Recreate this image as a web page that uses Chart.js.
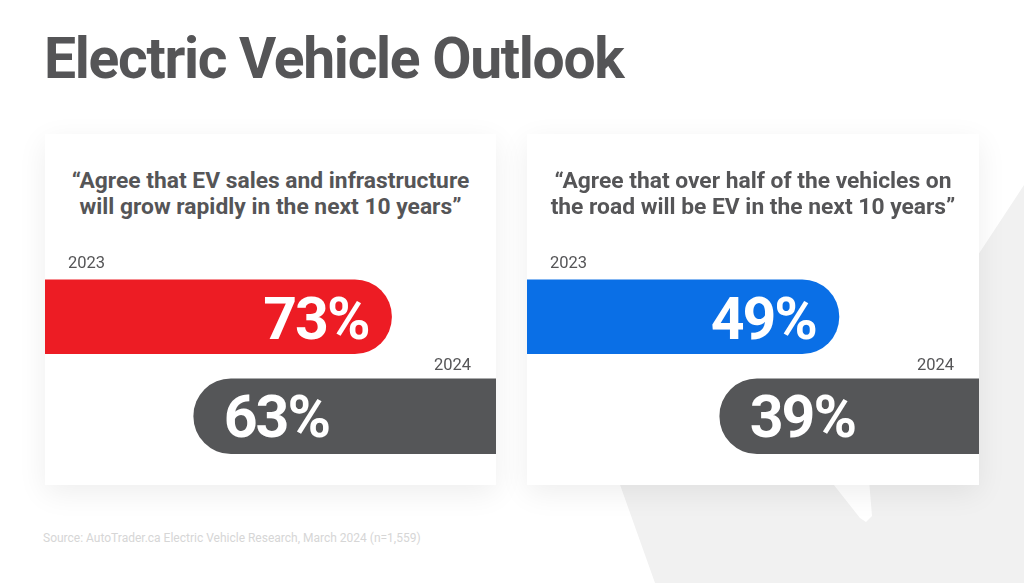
<!DOCTYPE html>
<html>
<head>
<meta charset="utf-8">
<script src="https://cdn.jsdelivr.net/npm/chart.js"></script>
<style>
  html, body { margin: 0; padding: 0; }
  body {
    width: 1024px; height: 583px; position: relative; overflow: hidden;
    background: #ffffff; font-family: Roboto, "Open Sans", sans-serif;
  }
  .bgshape {
    position: absolute; left: 0; top: 0; width: 1024px; height: 583px;
    background: #f1f1f1;
    clip-path: polygon(540px 260px, 955px 290px, 1024px 185px, 1024px 583px, 655px 583px);
  }
  .wedge {
    position: absolute; left: 0; top: 0; width: 1024px; height: 583px;
    background: #ffffff;
    clip-path: polygon(830px 480px, 869px 480px, 872px 516px, 866px 522px, 860px 518px);
  }
  h1 {
    position: absolute; left: 44px; top: 25px; margin: 0;
    font-size: 57px; font-weight: 700; color: #555557; letter-spacing: -1.3px;
    white-space: nowrap;
  }
  .card {
    position: absolute; top: 134px; height: 351px; background: #fff;
    box-shadow: 0 8px 28px rgba(0,0,0,0.07);
  }
  .card .q {
    position: absolute; left: 0; right: 0; top: 34px;
    text-align: center; font-size: 22.8px; line-height: 26px; font-weight: 700; color: #555557;
    white-space: nowrap;
  }
  .card canvas { position: absolute; left: 0; top: 106px; }
  .source {
    position: absolute; left: 43px; top: 531px; font-size: 12px; color: #d6d6d6;
    white-space: nowrap;
  }
</style>
</head>
<body>
<div class="bgshape"></div>
<div class="wedge"></div>
<h1>Electric Vehicle Outlook</h1>

<div class="card" id="card1" style="left:45px;width:451px;">
  <div class="q" id="q1"></div>
  <canvas id="chart1" width="451" height="240"></canvas>
</div>
<div class="card" id="card2" style="left:527px;width:452px;">
  <div class="q" id="q2"></div>
  <canvas id="chart2" width="452" height="240"></canvas>
</div>

<div class="source">Source: AutoTrader.ca Electric Vehicle Research, March 2024 (n=1,559)</div>

<script>
const years = ['2023', '2024'];
const questions = [
  ['\u201cAgree that EV sales and infrastructure', 'will grow rapidly in the next 10 years\u201d'],
  ['\u201cAgree that over half of the vehicles on', 'the road will be EV in the next 10 years\u201d']
];
const growRapidly = [73, 63];
const halfOnRoad = [49, 39];
const color2023 = ['#ED1C24', '#0A6FE6'];
const color2024 = '#555658';
// axis ranges (2023 axis, 2024 axis)
const axisMax1 = [95, 94];
const axisMax2 = [71, 68];

const labelPlugin = {
  id: 'barLabels',
  afterDatasetsDraw(chart) {
    const ctx = chart.ctx;
    chart.data.datasets.forEach((ds, di) => {
      const meta = chart.getDatasetMeta(di);
      meta.data.forEach((bar, i) => {
        const v = ds.data[i];
        if (v == null) return;
        const top = bar.y - bar.height / 2;
        ctx.save();
        // big percent inside bar
        ctx.fillStyle = '#ffffff';
        ctx.font = 'bold 59px Roboto';
        ctx.letterSpacing = '-2px';
        ctx.textBaseline = 'alphabetic';
        if (di === 0) {
          ctx.textAlign = 'right';
          ctx.fillText(v + '%', bar.x - 23, bar.y + 22);
        } else {
          ctx.textAlign = 'left';
          ctx.fillText(v + '%', bar.x + 30, bar.y + 21);
        }
        // year label above bar
        ctx.letterSpacing = '0px';
        ctx.fillStyle = '#555557';
        ctx.font = '16.5px Roboto';
        if (di === 0) {
          ctx.textAlign = 'left';
          ctx.fillText(years[i], chart.chartArea.left + 23, top - 12);
        } else {
          ctx.textAlign = 'right';
          ctx.fillText(years[i], chart.chartArea.right - 25, top - 9);
        }
        ctx.restore();
      });
    });
  }
};

function makeChart(id, values, col, maxes) {
  return new Chart(document.getElementById(id), {
    type: 'bar',
    data: {
      labels: years,
      datasets: [
        {
          label: years[0], data: [values[0], null], xAxisID: 'x',
          backgroundColor: col, grouped: false, barThickness: 74,
          borderRadius: 37, borderSkipped: 'start'
        },
        {
          label: years[1], data: [null, values[1]], xAxisID: 'x2',
          backgroundColor: color2024, grouped: false, barThickness: 75,
          borderRadius: 38, borderSkipped: 'start'
        }
      ]
    },
    options: {
      indexAxis: 'y',
      responsive: false,
      animation: false,
      devicePixelRatio: 1,
      layout: { padding: { top: 27, bottom: 14, left: 0, right: 0 } },
      plugins: { legend: { display: false }, tooltip: { enabled: false } },
      scales: {
        y: { display: false },
        x: { display: false, min: 0, max: maxes[0] },
        x2: { axis: 'x', display: false, reverse: true, min: 0, max: maxes[1] }
      }
    },
    plugins: [labelPlugin]
  });
}

document.getElementById('q1').innerHTML = questions[0].join('<br>');
document.getElementById('q2').innerHTML = questions[1].join('<br>');
makeChart('chart1', growRapidly, color2023[0], axisMax1);
makeChart('chart2', halfOnRoad, color2023[1], axisMax2);
</script>
</body>
</html>
